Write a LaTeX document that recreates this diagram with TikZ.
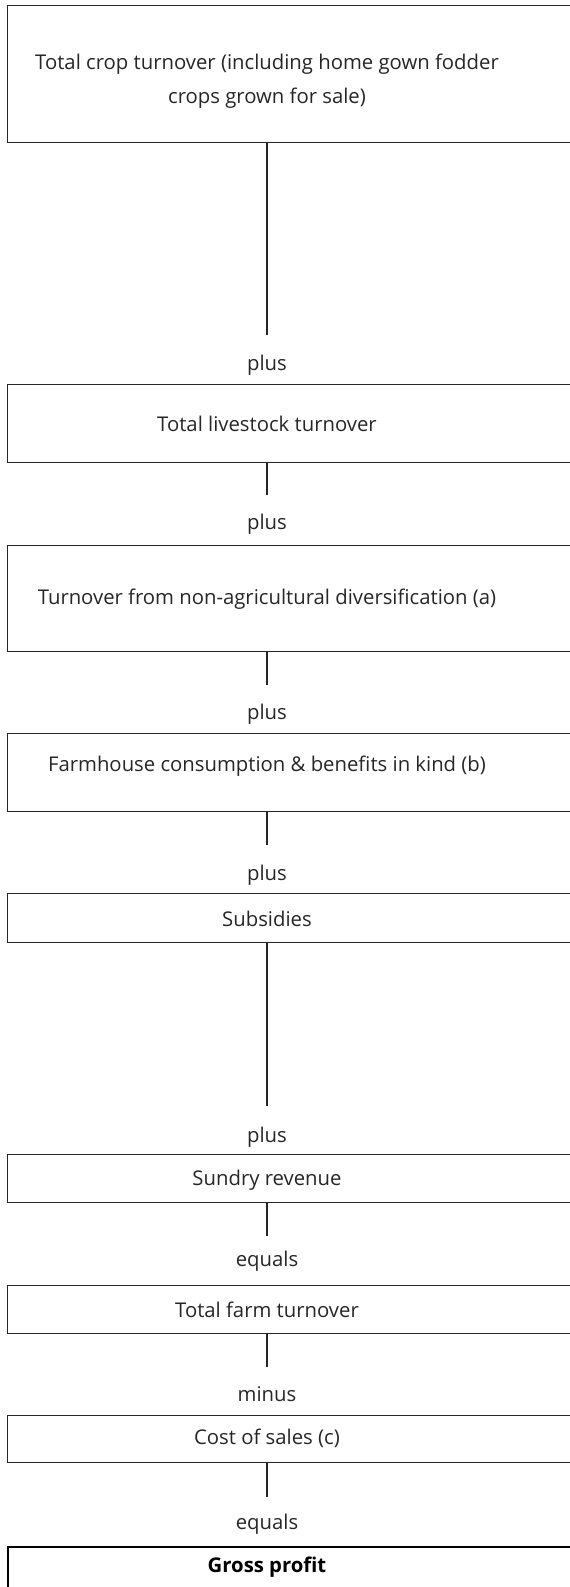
\documentclass[tikz,border=0pt]{standalone}
\usepackage{fontspec}
\setmainfont{Open Sans}
\begin{document}
\begin{tikzpicture}[x=1pt,y=-1pt,
  boxshape/.style={draw=black!85, line width=1.1pt, rectangle, inner sep=0pt, minimum width=573pt, anchor=north west},
  lbl/.style={font=\fontsize{20.3}{34}\selectfont, text=black!85, align=center, inner sep=0pt},
  conn/.style={draw=black!85, line width=1.1pt}]
\useasboundingbox (0,0) rectangle (570,1587);
\clip (0,0) rectangle (570,1587);
% boxes
\node[boxshape, minimum height=137pt] (b1) at (7,5) {};
\node[boxshape, minimum height=78pt] (b2) at (7,384) {};
\node[boxshape, minimum height=106pt] (b3) at (7,545) {};
\node[boxshape, minimum height=78pt] (b4) at (7,733) {};
\node[boxshape, minimum height=49pt] (b5) at (7,893) {};
\node[boxshape, minimum height=48pt] (b6) at (7,1154) {};
\node[boxshape, minimum height=48pt] (b7) at (7,1285) {};
\node[boxshape, minimum height=47pt] (b8) at (7,1415) {};
\node[boxshape, minimum height=60pt, line width=1.6pt, draw=black] (b9) at (7,1546) {};
% texts
\node[lbl] (t1) at (267,81) {Total crop turnover (including home gown fodder\\crops grown for sale)};
\node[lbl] (t2) at (267,424) {Total livestock turnover};
\node[lbl] (t3) at (267,599) {Turnover from non-agricultural diversification (a)};
\node[lbl] (t4) at (267,766) {Farmhouse consumption \& benefits in kind (b)};
\node[lbl] (t5) at (267,919) {Subsidies};
\node[lbl] (t6) at (267,1180) {Sundry revenue};
\node[lbl] (t7) at (267,1310) {Total farm turnover};
\node[lbl] (t8) at (267,1438) {Cost of sales (c)};
\node[lbl, font=\fontsize{20.3}{34}\selectfont\bfseries, text=black] (t9) at (267,1567) {Gross profit};
% operator labels
\node[lbl] (p1) at (267,365) {plus};
\node[lbl] (p2) at (267,524) {plus};
\node[lbl] (p3) at (267,714) {plus};
\node[lbl] (p4) at (267,875) {plus};
\node[lbl] (p5) at (267,1137) {plus};
\node[lbl] (p6) at (267,1261) {equals};
\node[lbl] (p7) at (267,1394) {minus};
\node[lbl] (p8) at (267,1524) {equals};
% connector ends
\coordinate (c1) at (267,335);
\coordinate (c2) at (267,495);
\coordinate (c3) at (267,685);
\coordinate (c4) at (267,845);
\coordinate (c5) at (267,1106);
\coordinate (c6) at (267,1236);
\coordinate (c7) at (267,1367);
\coordinate (c8) at (267,1497);
% connectors
\draw[conn] (b1.south -| t1) -- (c1);
\draw[conn] (b2.south -| t2) -- (c2);
\draw[conn] (b3.south -| t3) -- (c3);
\draw[conn] (b4.south -| t4) -- (c4);
\draw[conn] (b5.south -| t5) -- (c5);
\draw[conn] (b6.south -| t6) -- (c6);
\draw[conn] (b7.south -| t7) -- (c7);
\draw[conn] (b8.south -| t8) -- (c8);
\end{tikzpicture}
\end{document}
